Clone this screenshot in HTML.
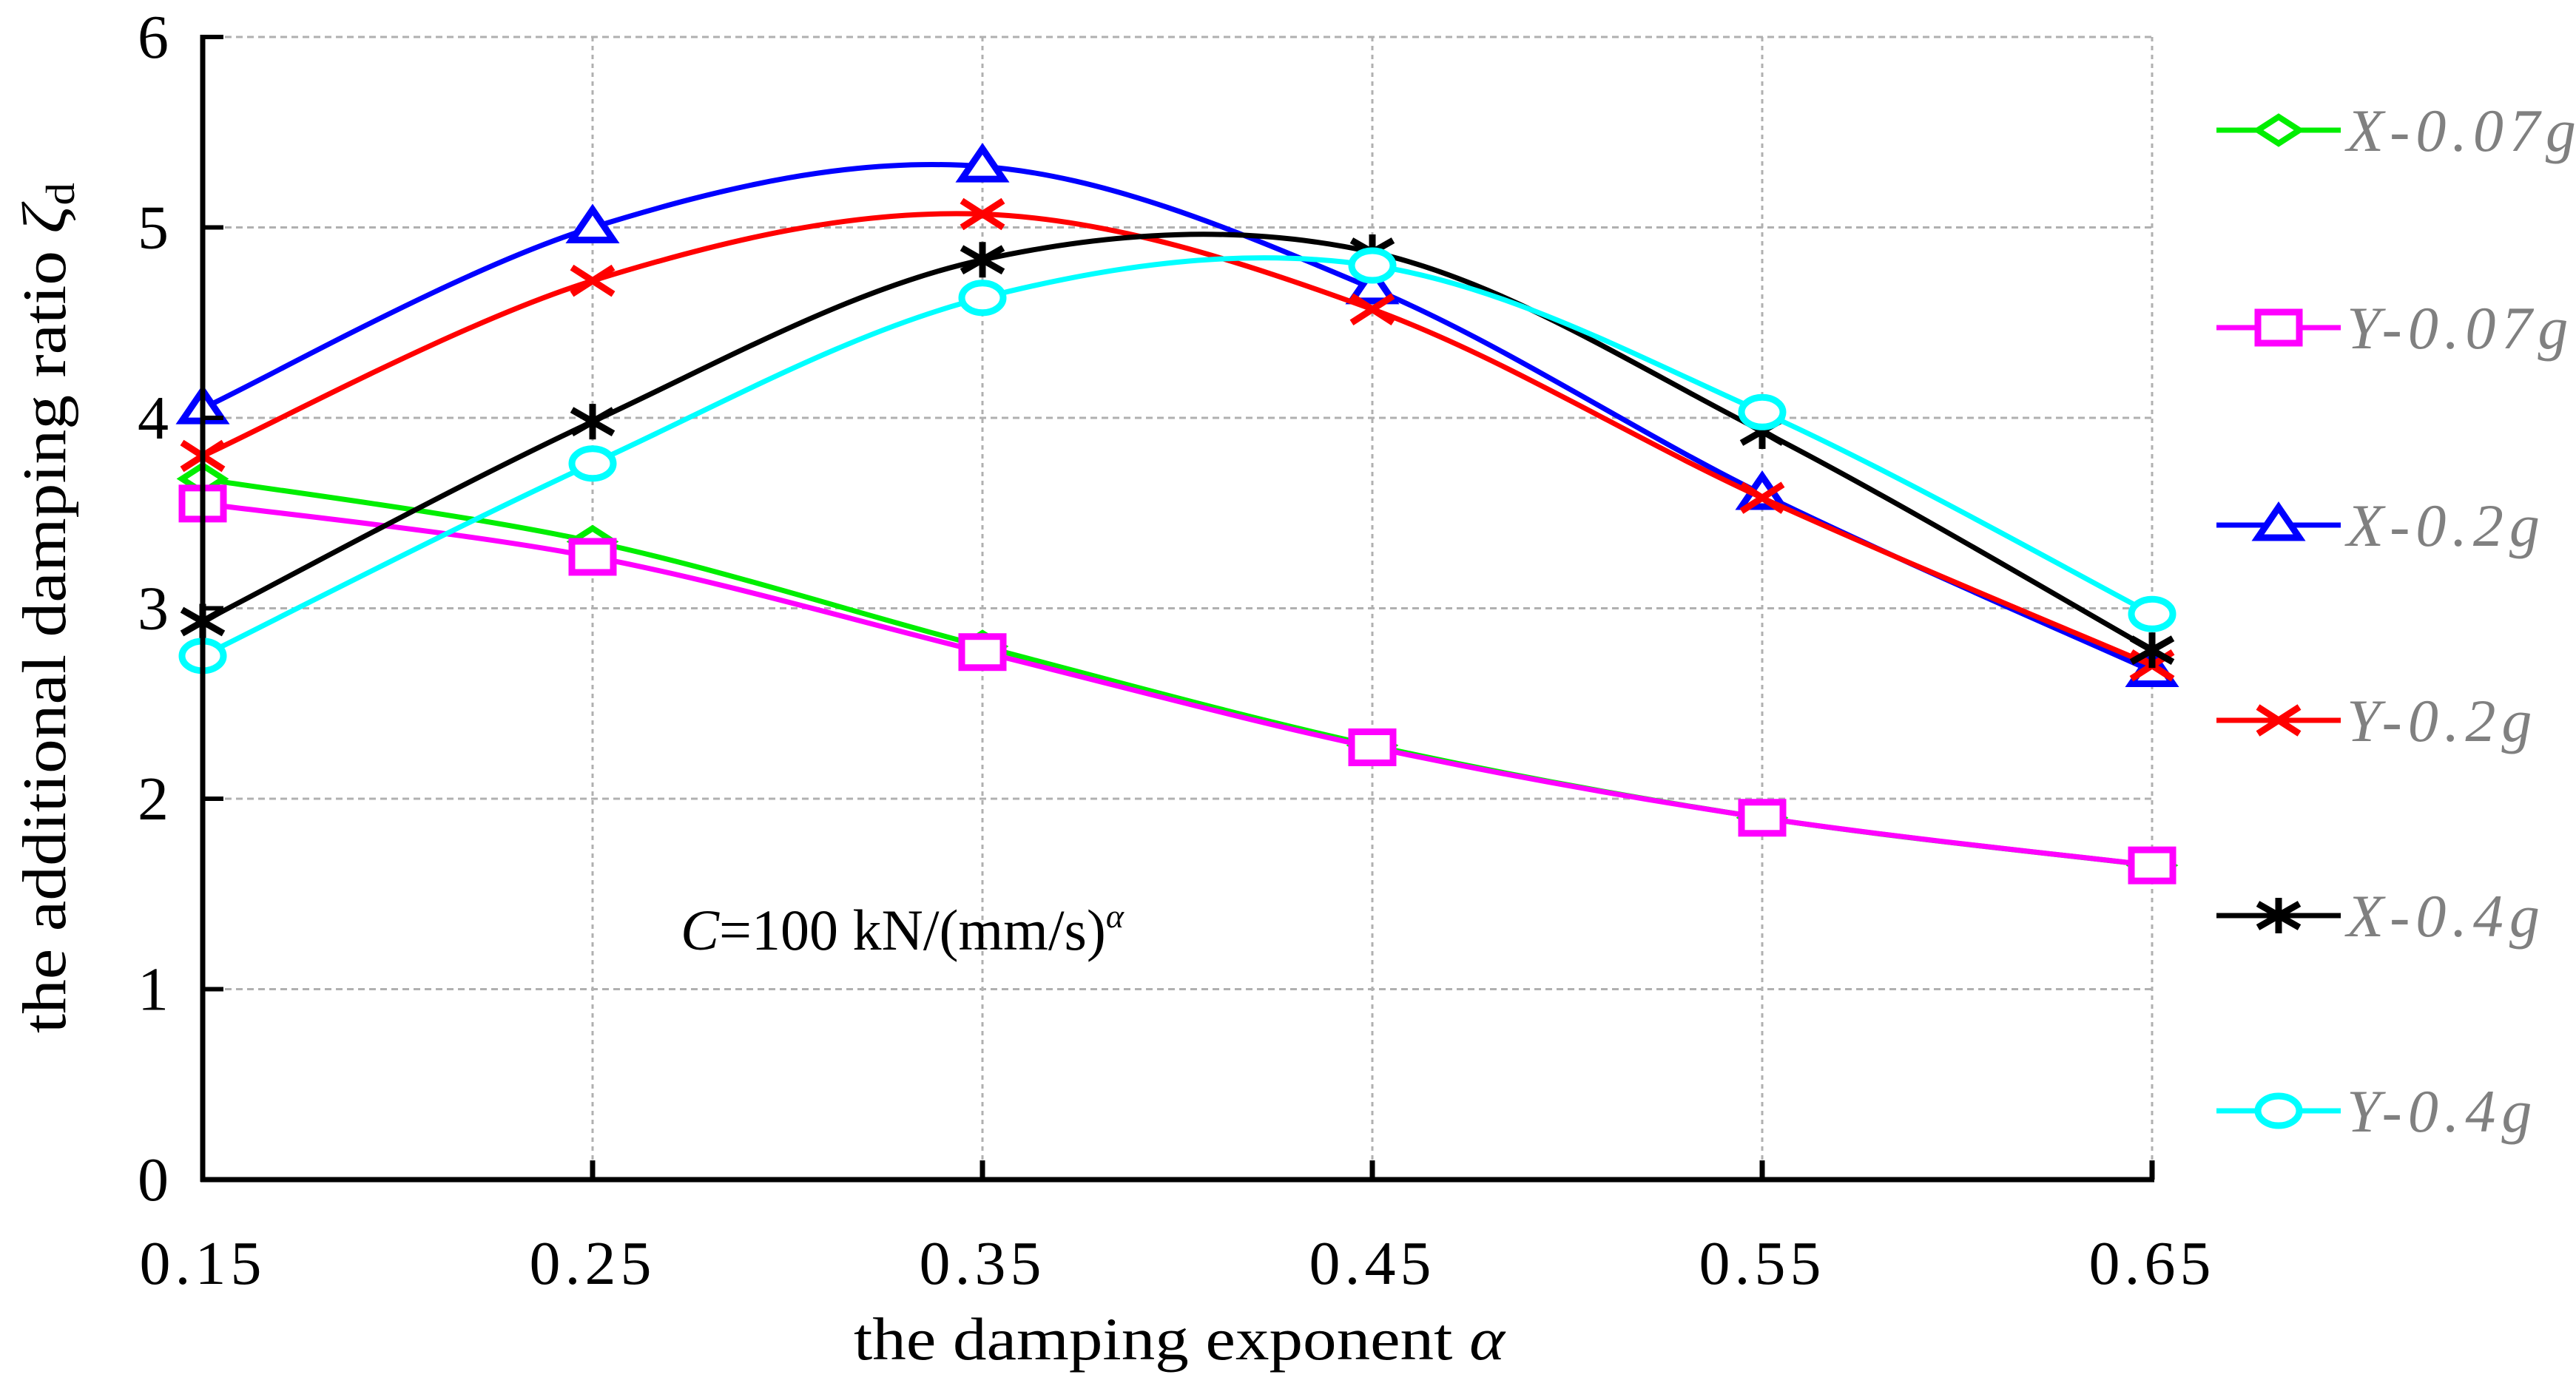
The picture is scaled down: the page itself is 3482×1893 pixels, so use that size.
<!DOCTYPE html>
<html><head><meta charset="utf-8"><style>
html,body{margin:0;padding:0;background:#fff;}
svg{display:block;font-family:"Liberation Serif",serif;}
</style></head><body>
<svg id="chart" width="3482" height="1893" viewBox="0 0 3482 1893" xmlns="http://www.w3.org/2000/svg">
<g id="grid"></g>
<g id="series"></g>
<g id="axes"></g>
<g id="legend"></g>
<text transform="translate(88,822) rotate(-90)" text-anchor="middle" font-size="84" textLength="1150" lengthAdjust="spacingAndGlyphs">the additional  damping ratio <tspan font-style="italic">ζ</tspan><tspan font-size="55" dy="12">d</tspan></text>
<text x="1594" y="1838" text-anchor="middle" font-size="82" textLength="880" lengthAdjust="spacingAndGlyphs">the damping exponent <tspan font-style="italic">α</tspan></text>
<text x="920" y="1284" font-size="78"><tspan font-style="italic">C</tspan>=100 kN/(mm/s)<tspan font-size="46" dy="-30" font-style="italic">α</tspan></text>
</svg>
<script>
const categories = [0.15, 0.25, 0.35, 0.45, 0.55, 0.65];
const yTicks = [0, 1, 2, 3, 4, 5, 6];
const seriesNames = ["X-0.07g", "Y-0.07g", "X-0.2g", "Y-0.2g", "X-0.4g", "Y-0.4g"];
const x007 = [3.68, 3.35, 2.80, 2.28, 1.90, 1.65];
const y007 = [3.55, 3.27, 2.77, 2.27, 1.90, 1.65];
const x02 = [4.05, 5.00, 5.32, 4.68, 3.60, 2.67];
const y02 = [3.80, 4.72, 5.07, 4.57, 3.58, 2.70];
const x04 = [2.93, 3.98, 4.83, 4.87, 3.93, 2.78];
const y04 = [2.75, 3.76, 4.63, 4.80, 4.03, 2.97];

const NS = "http://www.w3.org/2000/svg";
const L = 274, R = 2909, T = 50, B = 1595;
const xs = v => L + (v - 0.15) / 0.5 * (R - L);
const ys = v => B - v / 6 * (B - T);
function mk(tag, attrs, parent) {
  const e = document.createElementNS(NS, tag);
  for (const k in attrs) e.setAttribute(k, attrs[k]);
  parent.appendChild(e);
  return e;
}
const grid = document.getElementById('grid');
const axes = document.getElementById('axes');
const ser = document.getElementById('series');
const leg = document.getElementById('legend');

yTicks.forEach(t => {
  if (t > 0) {
    const g = mk('line', {x1: L, x2: R, y1: ys(t), y2: ys(t), stroke: '#b0b0b0', 'stroke-width': 3, 'stroke-dasharray': '9,6'}, grid);
    
    
  }
  const tk = mk('line', {x1: L, x2: L + 28, y1: ys(t), y2: ys(t), stroke: '#000', 'stroke-width': 6}, axes);
  
  
  const lb = mk('text', {x: 228, y: ys(t) + 28, 'text-anchor': 'end', 'font-size': 84}, axes);
  lb.textContent = t;
  
  
});
categories.forEach(c => {
  if (c > 0.15) {
    const g = mk('line', {x1: xs(c), x2: xs(c), y1: T, y2: B, stroke: '#b0b0b0', 'stroke-width': 3, 'stroke-dasharray': '6,6'}, grid);
    
    
  }
  const tk = mk('line', {x1: xs(c), x2: xs(c), y1: B, y2: B - 26, stroke: '#000', 'stroke-width': 7}, axes);
  
  
  const lb = mk('text', {x: xs(c), y: 1736, 'text-anchor': 'middle', 'font-size': 84, 'letter-spacing': 6}, axes);
  lb.textContent = c.toFixed(2);
  
  
});
const ya = mk('line', {x1: L, x2: L, y1: T - 3, y2: B + 3, stroke: '#000', 'stroke-width': 7}, axes);


const xa = mk('line', {x1: L - 3, x2: R + 3, y1: B, y2: B, stroke: '#000', 'stroke-width': 7}, axes);



function smoothPath(pts) {
  let d = `M${pts[0][0]},${pts[0][1]}`;
  for (let i = 0; i < pts.length - 1; i++) {
    const p0 = pts[i - 1] || pts[i], p1 = pts[i], p2 = pts[i + 1], p3 = pts[i + 2] || p2;
    const c1 = [p1[0] + (p2[0] - p0[0]) / 6, p1[1] + (p2[1] - p0[1]) / 6];
    const c2 = [p2[0] - (p3[0] - p1[0]) / 6, p2[1] - (p3[1] - p1[1]) / 6];
    d += ` C${c1[0]},${c1[1]} ${c2[0]},${c2[1]} ${p2[0]},${p2[1]}`;
  }
  return d;
}
function marker(type, x, y, color, parent) {
  let e;
  if (type === 'diamond') e = mk('polygon', {points: `${x},${y - 18} ${x + 28},${y} ${x},${y + 18} ${x - 28},${y}`, fill: '#fff', stroke: color, 'stroke-width': 8}, parent);
  else if (type === 'square') e = mk('rect', {x: x - 28, y: y - 21, width: 56, height: 42, fill: '#fff', stroke: color, 'stroke-width': 9}, parent);
  else if (type === 'triangle') e = mk('polygon', {points: `${x},${y - 24} ${x + 28},${y + 17} ${x - 28},${y + 17}`, fill: '#fff', stroke: color, 'stroke-width': 9}, parent);
  else if (type === 'x') e = mk('path', {d: `M${x - 28},${y - 18}L${x + 28},${y + 18}M${x - 28},${y + 18}L${x + 28},${y - 18}`, stroke: color, 'stroke-width': 9, fill: 'none'}, parent);
  else if (type === 'star') e = mk('path', {d: `M${x - 28},${y - 16}L${x + 28},${y + 16}M${x - 28},${y + 16}L${x + 28},${y - 16}M${x},${y - 24}L${x},${y + 24}`, stroke: color, 'stroke-width': 9, fill: 'none'}, parent);
  else e = mk('ellipse', {cx: x, cy: y, rx: 28, ry: 20, fill: '#fff', stroke: color, 'stroke-width': 9}, parent);
  
  
  return e;
}
const seriesData = [x007, y007, x02, y02, x04, y04];
const colors = ['#00ee00', '#ff00ff', '#0000ff', '#ff0000', '#000000', '#00ffff'];
const markers = ['diamond', 'square', 'triangle', 'x', 'star', 'circle'];
const legendY = [176, 443, 710, 974, 1238, 1502];
seriesData.forEach((vals, i) => {
  const g = mk('g', {}, ser);
  
  
  const pts = vals.map((v, j) => [xs(categories[j]), ys(v)]);
  const p = mk('path', {d: smoothPath(pts), fill: 'none', stroke: colors[i], 'stroke-width': 7}, g);
  
  
  pts.forEach(pt => marker(markers[i], pt[0], pt[1], colors[i], g));
  const lg = mk('g', {}, leg);
  
  
  const ly = legendY[i];
  mk('line', {x1: 2996, x2: 3164, y1: ly, y2: ly, stroke: colors[i], 'stroke-width': 7}, lg);
  marker(markers[i], 3080, ly, colors[i], lg);
  const t = mk('text', {x: 3172, y: ly + 28, 'font-size': 82, 'font-style': 'italic', fill: '#808080', 'letter-spacing': 8}, lg);
  t.textContent = seriesNames[i];
  
  
});
</script>
</body></html>
